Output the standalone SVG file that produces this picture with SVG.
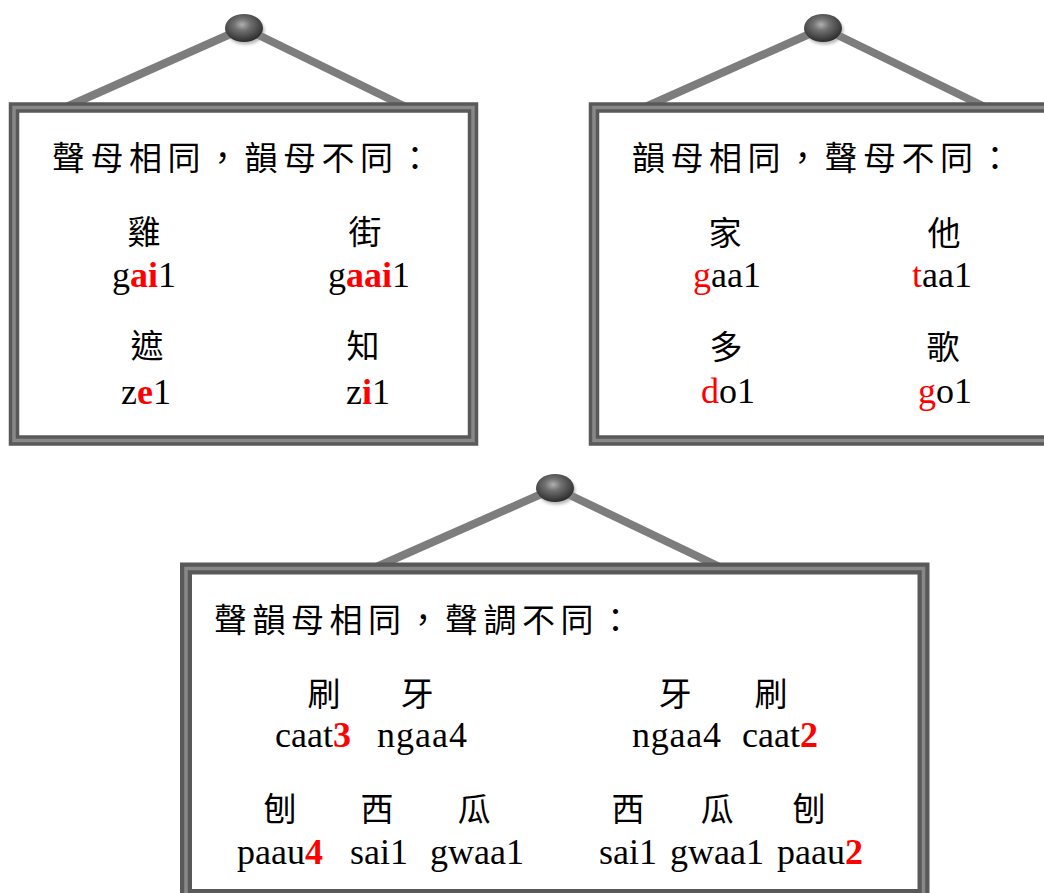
<svg xmlns="http://www.w3.org/2000/svg" width="1044" height="893" viewBox="0 0 1044 893">
<defs>
<radialGradient id="knobG" cx="45%" cy="38%" r="62%">
<stop offset="0" stop-color="#b0b0b0"/>
<stop offset="0.35" stop-color="#707070"/>
<stop offset="1" stop-color="#2c2c2c"/>
</radialGradient>
<filter id="soft" x="-30%" y="-30%" width="160%" height="160%"><feGaussianBlur stdDeviation="1.6"/></filter>
<g id="knob">
<ellipse cx="1.5" cy="2.5" rx="19" ry="14" fill="#8a8a8a" opacity="0.6" filter="url(#soft)"/>
<ellipse cx="0" cy="0" rx="19" ry="14" fill="url(#knobG)"/>
</g>
</defs>
<style>
.wire{stroke:#7d7d7d;stroke-width:8;fill:none}
.band{fill:#ffffff;stroke:#595959;stroke-width:10.5}
.stripe{fill:none;stroke:#888888;stroke-width:3.5}
.cjk{font-family:"Noto Sans CJK TC","Noto Sans CJK SC",sans-serif;font-size:33px;fill:#000}
.head{letter-spacing:5.5px}
.mid{text-anchor:middle}
.py{font-family:"Liberation Serif","Times New Roman",serif;font-size:36px;fill:#000}
.r{fill:#ff0000}
.b{font-weight:bold}
</style>
<rect width="1044" height="893" fill="#ffffff"/>

<g id="frame1">
<line class="wire" x1="244" y1="28" x2="64" y2="108"/>
<line class="wire" x1="244" y1="28" x2="408" y2="108"/>
<use href="#knob" x="244" y="28"/>
<rect class="band" x="14" y="107.5" width="459" height="333"/>
<rect class="stripe" x="14" y="107.5" width="459" height="333"/>
<text class="cjk head" x="52" y="170">聲母相同，韻母不同：</text>
<text class="cjk mid" x="144" y="244">雞</text>
<text class="cjk mid" x="365" y="244">街</text>
<text class="py mid" x="144" y="287">g<tspan class="r b">ai</tspan>1</text>
<text class="py mid" x="369" y="287">g<tspan class="r b">aai</tspan>1</text>
<text class="cjk mid" x="147" y="358">遮</text>
<text class="cjk mid" x="363" y="358">知</text>
<text class="py mid" x="146" y="404">z<tspan class="r b">e</tspan>1</text>
<text class="py mid" x="368" y="404">z<tspan class="r b">i</tspan>1</text>
</g>

<g id="frame2">
<line class="wire" x1="823" y1="28" x2="643" y2="108"/>
<line class="wire" x1="823" y1="28" x2="987" y2="108"/>
<use href="#knob" x="823" y="28"/>
<rect class="band" x="594" y="107.5" width="500" height="333"/>
<rect class="stripe" x="594" y="107.5" width="500" height="333"/>
<text class="cjk head" x="632" y="170">韻母相同，聲母不同：</text>
<text class="cjk mid" x="725" y="245">家</text>
<text class="cjk mid" x="944" y="245">他</text>
<text class="py mid" x="727" y="287"><tspan class="r">g</tspan>aa1</text>
<text class="py mid" x="942" y="287"><tspan class="r">t</tspan>aa1</text>
<text class="cjk mid" x="726" y="359">多</text>
<text class="cjk mid" x="943" y="359">歌</text>
<text class="py mid" x="728" y="403"><tspan class="r">d</tspan>o1</text>
<text class="py mid" x="945" y="403"><tspan class="r">g</tspan>o1</text>
</g>

<g id="frame3">
<line class="wire" x1="555" y1="488" x2="374" y2="568"/>
<line class="wire" x1="555" y1="488" x2="722" y2="568"/>
<use href="#knob" x="555" y="488"/>
<rect class="band" x="186" y="568.5" width="737.5" height="326.5" style="stroke-width:12"/>
<rect class="stripe" x="186" y="568.5" width="737.5" height="326.5"/>
<text class="cjk head" x="214" y="632">聲韻母相同，聲調不同：</text>
<text class="cjk mid" x="324" y="706">刷</text>
<text class="cjk mid" x="417" y="706">牙</text>
<text class="cjk mid" x="675" y="706">牙</text>
<text class="cjk mid" x="771" y="706">刷</text>
<text class="py" x="275" y="747">caat<tspan class="r b">3</tspan></text>
<text class="py" x="377" y="747" textLength="90">ngaa4</text>
<text class="py" x="632" y="747" textLength="89">ngaa4</text>
<text class="py" x="742" y="747">caat<tspan class="r b">2</tspan></text>
<text class="cjk mid" x="280" y="821">刨</text>
<text class="cjk mid" x="377" y="821">西</text>
<text class="cjk mid" x="474" y="821">瓜</text>
<text class="cjk mid" x="628" y="821">西</text>
<text class="cjk mid" x="717" y="821">瓜</text>
<text class="cjk mid" x="809" y="821">刨</text>
<text class="py" x="237" y="864">paau<tspan class="r b">4</tspan></text>
<text class="py" x="350" y="864">sai1</text>
<text class="py" x="430" y="864">gwaa1</text>
<text class="py" x="599" y="864">sai1</text>
<text class="py" x="670" y="864">gwaa1</text>
<text class="py" x="777" y="864">paau<tspan class="r b">2</tspan></text>
</g>

<g id="connectors"/>
</svg>
